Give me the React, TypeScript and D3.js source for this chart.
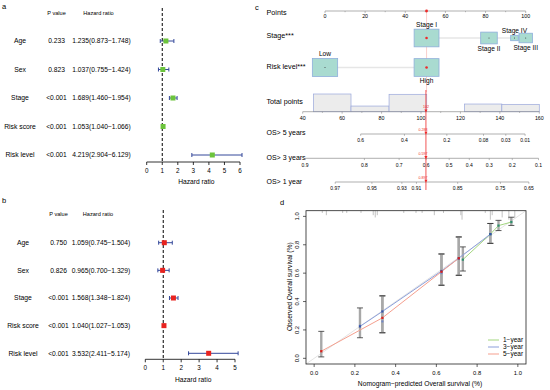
import * as d3 from 'd3';

const FONT = '"Liberation Sans", Arial, Helvetica, sans-serif';

// ---- forest plots (a: univariate, b: multivariate)
const variables = ['Age', 'Sex', 'Stage', 'Risk score', 'Risk level'];
const uniP = ['0.233', '0.823', '<0.001', '<0.001', '<0.001'];
const uniHR = [1.235, 1.037, 1.689, 1.053, 4.219];
const uniLow = [0.873, 0.755, 1.46, 1.04, 2.904];
const uniHigh = [1.748, 1.424, 1.954, 1.066, 6.129];
const multiP = ['0.750', '0.826', '<0.001', '<0.001', '<0.001'];
const multiHR = [1.059, 0.965, 1.568, 1.04, 3.532];
const multiLow = [0.745, 0.7, 1.348, 1.027, 2.411];
const multiHigh = [1.504, 1.329, 1.824, 1.053, 5.174];

// ---- nomogram (c)
const stageLevels = ['Stage I', 'Stage II', 'Stage IV', 'Stage III'];
const stagePoints = [50.6, 81.7, 94.4, 100];
const stageCounts = [171, 76, 16, 50];
const riskLevels = ['Low', 'High'];
const riskPoints = [0, 50.6];
const riskCounts = [177, 172];
const totalBins = [45.4, 64.5, 83.8, 102.9, 122, 141, 160];
const totalCounts = [166, 53, 163, 0, 72, 69];
const os5Labels = ['0.6', '0.4', '0.2', '0.08', '0.03', '0.01'];
const os5Pts = [69.4, 91.6, 113.1, 131.7, 143, 152.8];
const os3Labels = ['0.9', '0.8', '0.7', '0.6', '0.5', '0.4', '0.3', '0.2', '0.1'];
const os3Pts = [41.2, 71.3, 88.9, 102.6, 114.3, 124.5, 134.6, 146.3, 159.6];
const os1Labels = ['0.97', '0.95', '0.93', '0.91', '0.85', '0.75', '0.65'];
const os1Pts = [56.5, 75.1, 90.3, 97.7, 118.6, 140.3, 154.7];
const patientPoints = 50.6;
const patientTotal = 102.5;
const patientTotalLabel = '102';
const patientOS = ['0.288', '0.597', '0.897'];

// ---- calibration (d)
const pred1 = [0.73, 0.865, 0.905, 0.968];
const obs1 = [0.695, 0.875, 0.935, 0.96];
const lo1 = [0.615, 0.81, 0.9, 0.936];
const hi1 = [0.785, 0.95, 0.972, 0.994];
const pred3 = [0.225, 0.335, 0.625, 0.71, 0.865];
const obs3 = [0.225, 0.33, 0.615, 0.705, 0.875];
const corr3 = [0.23, 0.26, 0.6, 0.7, 0.875];
const lo3 = [0.145, 0.18, 0.515, 0.585, 0.81];
const hi3 = [0.355, 0.44, 0.735, 0.855, 0.95];
const pred5 = [0.035, 0.335, 0.625, 0.71];
const obs5 = [0.05, 0.285, 0.61, 0.705];
const lo5 = [0.01, 0.18, 0.515, 0.585];
const hi5 = [0.19, 0.44, 0.735, 0.855];
const rugX = [0.04, 0.06, 0.14, 0.16, 0.23, 0.29, 0.3, 0.31, 0.44, 0.5, 0.53, 0.59, 0.635, 0.72, 0.726, 0.84, 0.865, 0.874, 0.923, 0.956, 0.985];
const rugN = [1, 2, 1, 1, 1, 2, 3, 2, 1, 1, 1, 2, 1, 2, 4, 1, 4, 2, 3, 4, 3];
const calTicks = [0, 0.2, 0.4, 0.6, 0.8, 1.0];

const fmt = d3.format('.3f');

type ForestProps = {
  p: string[]; hr: number[]; lo: number[]; hi: number[];
  xMax: number; xRange: [number, number]; rowRange: [number, number];
  headerY: number; axisY: number; dashTop: number;
  labelX: number; pX: number; hrX: number; color: string;
  tag: string; tagY: number;
};

function Forest(props: ForestProps) {
  const { p, hr, lo, hi, xMax, xRange, rowRange, headerY, axisY, dashTop, labelX, pX, hrX, color, tag, tagY } = props;
  const x = d3.scaleLinear().domain([0, xMax]).range(xRange);
  const y = d3.scalePoint<string>().domain(variables).range(rowRange);
  const ciColor = '#34489a';
  return (
    <g>
      <text x={2} y={tagY} fontSize={7.5} dy="0.35em">{tag}</text>
      <text x={pX} y={headerY} fontSize={5.6} textAnchor="middle" dy="0.35em">P value</text>
      <text x={hrX - 3} y={headerY} fontSize={5.6} textAnchor="middle" dy="0.35em">Hazard ratio</text>
      {variables.map((v, i) => (
        <g key={v}>
          <text x={labelX} y={y(v)} fontSize={6.8} textAnchor="middle" dy="0.35em">{v}</text>
          <text x={pX} y={y(v)} fontSize={6.7} textAnchor="middle" dy="0.35em">{p[i]}</text>
          <text x={hrX} y={y(v)} fontSize={6.7} textAnchor="middle" dy="0.35em">
            {`${fmt(hr[i])}(${fmt(lo[i])}\u2212${fmt(hi[i])})`}
          </text>
        </g>
      ))}
      <line x1={x(1)} x2={x(1)} y1={dashTop} y2={axisY} stroke="#000" strokeWidth={1} strokeDasharray="3,2" />
      {variables.map((v, i) => {
        const yy = y(v) as number;
        return (
          <g key={v}>
            <line x1={x(lo[i])} x2={x(hi[i])} y1={yy} y2={yy} stroke={ciColor} strokeWidth={1} />
            <line x1={x(lo[i])} x2={x(lo[i])} y1={yy - 2} y2={yy + 2} stroke={ciColor} strokeWidth={1} />
            <line x1={x(hi[i])} x2={x(hi[i])} y1={yy - 2} y2={yy + 2} stroke={ciColor} strokeWidth={1} />
            <rect x={x(hr[i]) - 2.5} y={yy - 2.5} width={5} height={5} fill={color} />
          </g>
        );
      })}
      <line x1={xRange[0]} x2={xRange[1]} y1={axisY} y2={axisY} stroke="#000" strokeWidth={0.8} />
      {x.ticks(xMax).map((t) => (
        <g key={t}>
          <line x1={x(t)} x2={x(t)} y1={axisY} y2={axisY + 3} stroke="#000" strokeWidth={0.8} />
          <text x={x(t)} y={axisY + 8.5} fontSize={6.3} textAnchor="middle" dy="0.35em">{t}</text>
        </g>
      ))}
      <text x={(xRange[0] + xRange[1]) / 2 + 3} y={axisY + 20} fontSize={6.7} textAnchor="middle" dy="0.35em">
        Hazard ratio
      </text>
    </g>
  );
}

function Nomogram() {
  const px = d3.scaleLinear().domain([0, 100]).range([325, 525.7]);
  const tx = d3.scaleLinear().domain([40, 160]).range([302.7, 539.3]);
  const boxW = d3.scaleSqrt().domain([0, 177]).range([0, 25.3]);
  const axisGray = '#8c8c8c';
  const boxFill = '#a9dbd0';
  const boxStroke = '#8eaedb';
  const red = '#ee2a2a';
  const labelX = 266.5;
  const pointsY = 11;
  const stageY = 38;
  const riskY = 67.5;
  const totalY = 111.7;
  const histY = d3.scaleLinear().domain([0, d3.max(totalCounts) as number]).range([totalY, 94]);
  const osRows = [
    { name: 'OS> 5 years', labels: os5Labels, pts: os5Pts, y: 134, ly: 133, pred: patientOS[0] },
    { name: 'OS> 3 years', labels: os3Labels, pts: os3Pts, y: 158.3, ly: 157.6, pred: patientOS[1] },
    { name: 'OS> 1 year', labels: os1Labels, pts: os1Pts, y: 182, ly: 181.5, pred: patientOS[2] },
  ];
  const tri = (cx: number, cy: number) => `M${cx - 1.6},${cy - 2.2}L${cx + 1.6},${cy - 2.2}L${cx},${cy + 0.6}Z`;

  const factorRow = (levels: string[], pts: number[], counts: number[], cy: number, selected: string) => (
    <g>
      <line x1={px(d3.min(pts) as number)} x2={px(d3.max(pts) as number)} y1={cy} y2={cy} stroke="#e6e6e6" strokeWidth={1.5} />
      {levels.map((l, i) => {
        const w = boxW(counts[i]);
        const h = w * 0.71;
        const cx = px(pts[i]);
        const above = i % 2 === 0;
        return (
          <g key={l}>
            <rect x={cx - w / 2} y={cy - h / 2} width={w} height={h} fill={boxFill} stroke={boxStroke} strokeWidth={0.8} />
            <circle cx={cx} cy={cy} r={l === selected ? 1.3 : 0.5} fill={l === selected ? red : '#333'} />
            <text x={cx} y={above ? cy - h / 2 - 4.6 : cy + h / 2 + 4.8} fontSize={6.6} textAnchor="middle" dy="0.35em">
              {l}
            </text>
          </g>
        );
      })}
    </g>
  );

  return (
    <g>
      <text x={255} y={7} fontSize={7.5} dy="0.35em">c</text>
      {/* points axis */}
      <text x={labelX} y={12.7} fontSize={7.2} dy="0.35em">Points</text>
      <line x1={px(0)} x2={px(100)} y1={pointsY} y2={pointsY} stroke={axisGray} strokeWidth={0.7} />
      {px.ticks(10).map((t) => (
        <line key={t} x1={px(t)} x2={px(t)} y1={pointsY} y2={pointsY + (t % 20 === 0 ? 2 : 1.2)} stroke={axisGray} strokeWidth={0.6} />
      ))}
      {px.ticks(5).map((t) => (
        <text key={t} x={px(t)} y={pointsY + 5} fontSize={5.3} textAnchor="middle" dy="0.35em">{t}</text>
      ))}
      <line x1={px(patientPoints)} x2={px(patientPoints)} y1={pointsY} y2={92} stroke="#f7c4c0" strokeWidth={0.8} />
      <circle cx={px(patientPoints)} cy={pointsY} r={1.4} fill={red} />

      <text x={labelX} y={35} fontSize={7.2} dy="0.35em">Stage***</text>
      {factorRow(stageLevels, stagePoints, stageCounts, stageY, 'Stage I')}
      <text x={labelX} y={66.7} fontSize={7.2} dy="0.35em">Risk level***</text>
      {factorRow(riskLevels, riskPoints, riskCounts, riskY, 'High')}

      {/* total points */}
      <text x={labelX} y={101} fontSize={7.2} dy="0.35em">Total points</text>
      {totalCounts.map((c, i) =>
        c > 0 ? (
          <rect key={i} x={tx(totalBins[i])} y={histY(c)} width={tx(totalBins[i + 1]) - tx(totalBins[i])} height={totalY - histY(c)}
            fill="#ececec" stroke="#9aa8dc" strokeWidth={0.7} />
        ) : null
      )}
      <line x1={tx(40)} x2={tx(160)} y1={totalY} y2={totalY} stroke={axisGray} strokeWidth={0.7} />
      {tx.ticks(12).map((t) => (
        <line key={t} x1={tx(t)} x2={tx(t)} y1={totalY} y2={totalY + (t % 20 === 0 ? 2 : 1.2)} stroke={axisGray} strokeWidth={0.6} />
      ))}
      {tx.ticks(6).map((t) => (
        <text key={t} x={tx(t)} y={totalY + 6} fontSize={5.3} textAnchor="middle" dy="0.35em">{t}</text>
      ))}

      {/* survival axes */}
      {osRows.map((r) => (
        <g key={r.name}>
          <text x={labelX} y={r.ly} fontSize={7} dy="0.35em">{r.name}</text>
          <line x1={tx(r.pts[0])} x2={tx(r.pts[r.pts.length - 1])} y1={r.y} y2={r.y} stroke={axisGray} strokeWidth={0.7} />
          {r.pts.map((p, i) => (
            <g key={i}>
              <line x1={tx(p)} x2={tx(p)} y1={r.y} y2={r.y + 1.8} stroke={axisGray} strokeWidth={0.6} />
              <text x={tx(p)} y={r.y + 6.6} fontSize={5} textAnchor="middle" dy="0.35em">{r.labels[i]}</text>
            </g>
          ))}
        </g>
      ))}

      {/* patient projection */}
      <line x1={tx(patientTotal)} x2={tx(patientTotal)} y1={90} y2={190} stroke={red} strokeWidth={0.8} />
      <path d={tri(tx(patientTotal), totalY)} fill={red} />
      <text x={tx(patientTotal)} y={106.5} fontSize={3.6} fill={red} textAnchor="middle" dy="0.35em">{patientTotalLabel}</text>
      {osRows.map((r) => (
        <g key={r.name}>
          <path d={tri(tx(patientTotal), r.y)} fill={red} />
          <text x={tx(patientTotal) - 3} y={r.y - 4.2} fontSize={3.6} fill={red} textAnchor="middle" dy="0.35em">{r.pred}</text>
        </g>
      ))}
    </g>
  );
}

function Calibration() {
  const x = d3.scaleLinear().domain([-0.04, 1.04]).range([306, 526]);
  const y = d3.scaleLinear().domain([-0.04, 1.04]).range([364, 210.7]);
  const series = [
    { name: '1\u2212year', pred: pred1, obs: obs1, lo: lo1, hi: hi1, line: '#a3d67f', dot: '#2f8f6f' },
    { name: '3\u2212year', pred: pred3, obs: obs3, lo: lo3, hi: hi3, line: '#8c9fda', dot: '#3654a8' },
    { name: '5\u2212year', pred: pred5, obs: obs5, lo: lo5, hi: hi5, line: '#f59f8e', dot: '#d9201c' },
  ];
  const line = d3.line<number>();
  const rugLen = d3.scaleLinear().domain([0, 4]).range([0, 9]);
  return (
    <g>
      <text x={280} y={202} fontSize={7.5} dy="0.35em">d</text>
      <line x1={x(-0.04)} y1={y(-0.04)} x2={x(1.04)} y2={y(1.04)} stroke="#dcdcdc" strokeWidth={0.8} />
      {rugX.map((r, i) => (
        <line key={i} x1={x(r)} x2={x(r)} y1={y(1.04)} y2={y(1.04) + rugLen(rugN[i])} stroke="#999" strokeWidth={0.6} />
      ))}
      {series.map((s) => (
        <g key={s.name}>
          {s.pred.map((p, i) => (
            <g key={i}>
              <line x1={x(p)} x2={x(p)} y1={y(s.lo[i])} y2={y(s.hi[i])} stroke="#a8a8a8" strokeWidth={2.4} />
              <line x1={x(p) - 3} x2={x(p) + 3} y1={y(s.lo[i])} y2={y(s.lo[i])} stroke="#333" strokeWidth={0.8} />
              <line x1={x(p) - 3} x2={x(p) + 3} y1={y(s.hi[i])} y2={y(s.hi[i])} stroke="#333" strokeWidth={0.8} />
            </g>
          ))}
        </g>
      ))}
      {series.map((s) => (
        <path key={s.name} d={line(s.pred.map((p, i) => [x(p), y(s.obs[i])])) as string} fill="none" stroke={s.line} strokeWidth={1} />
      ))}
      {pred3.map((p, i) => (
        <rect key={i} x={x(p) - 1} y={y(corr3[i]) - 1} width={2} height={2} fill="#6f86c8" />
      ))}
      {series.map((s) => (
        <g key={s.name}>
          {s.pred.map((p, i) => (
            <rect key={i} x={x(p) - 1.1} y={y(s.obs[i]) - 1.1} width={2.2} height={2.2} fill={s.dot} />
          ))}
        </g>
      ))}
      <rect x={306} y={210.7} width={220} height={153.3} fill="none" stroke="#222" strokeWidth={0.8} />
      {calTicks.map((t) => (
        <g key={t}>
          <line x1={x(t)} x2={x(t)} y1={364} y2={367} stroke="#222" strokeWidth={0.7} />
          <text x={x(t)} y={372.7} fontSize={5.8} textAnchor="middle" dy="0.35em">{t.toFixed(1)}</text>
          <line x1={306} x2={303} y1={y(t)} y2={y(t)} stroke="#222" strokeWidth={0.7} />
          <text x={299.5} y={y(t)} fontSize={5.8} textAnchor="middle" transform={`rotate(-90 299.5 ${y(t)})`}>{t.toFixed(1)}</text>
        </g>
      ))}
      <text x={420} y={383.3} fontSize={6.7} textAnchor="middle" dy="0.35em">
        Nomogram{'\u2212'}predicted Overall survival (%)
      </text>
      <text x={290} y={286.7} fontSize={6.7} textAnchor="middle" dy="0.35em" transform="rotate(-90 290 286.7)">
        Observed Overall survival (%)
      </text>
      {series.map((s, i) => (
        <g key={s.name}>
          <line x1={488} x2={499} y1={340 + i * 7} y2={340 + i * 7} stroke={s.line} strokeWidth={1} />
          <text x={503} y={340 + i * 7} fontSize={6.5} dy="0.35em">{s.name}</text>
        </g>
      ))}
    </g>
  );
}

export default function App() {
  return (
    <svg width={550} height={390} style={{ position: 'absolute', left: 0, top: 0, background: '#fff' }} fontFamily={FONT}>
      <Forest p={uniP} hr={uniHR} lo={uniLow} hi={uniHigh} xMax={6} xRange={[146.7, 240]} rowRange={[41, 155]}
        headerY={13} axisY={162} dashTop={8} labelX={20} pX={56.5} hrX={101.5} color="#6cc43c" tag="a" tagY={6} />
      <Forest p={multiP} hr={multiHR} lo={multiLow} hi={multiHigh} xMax={5} xRange={[145.3, 235]} rowRange={[242.7, 353.3]}
        headerY={214} axisY={359.3} dashTop={210} labelX={23} pX={58.5} hrX={101} color="#e8231f" tag="b" tagY={200} />
      <Nomogram />
      <Calibration />
    </svg>
  );
}
